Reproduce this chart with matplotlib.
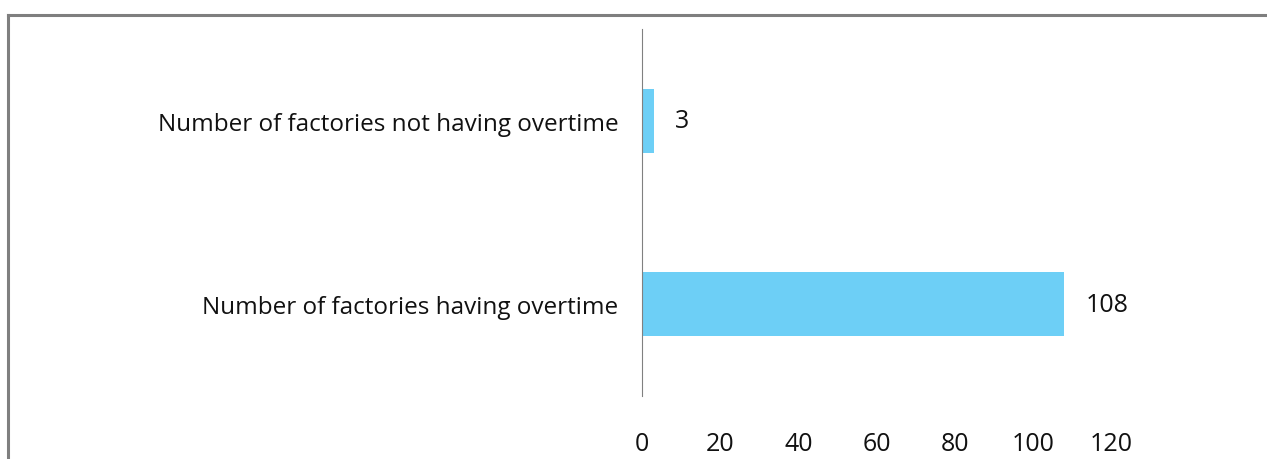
import matplotlib.pyplot as plt
from matplotlib.lines import Line2D

# data
categories = ["Number of factories having overtime",
              "Number of factories not having overtime"]
counts = [108, 3]
xticks = [0, 20, 40, 60, 80, 100, 120]

plt.rcParams['font.family'] = ['Open Sans', 'DejaVu Sans']

fig = plt.figure(figsize=(12.67, 4.6), dpi=100)
ax = fig.add_axes([642 / 1267, 1 - 397 / 460, (1111 - 642) / 1267, 367 / 460])

ypos = list(range(len(categories)))
ax.barh(ypos, counts, height=0.35, color='#6dcff6')
for y, v in zip(ypos, counts):
    ax.text(v + 5.5, y, str(v), va='center', ha='left', fontsize=18, color='#111111')

ax.set_xlim(0, 120)
ax.set_ylim(-0.5, 1.5)
ax.set_yticks(ypos)
ax.set_yticklabels(categories, fontsize=17.5, color='#111111')
ax.set_xticks(xticks)
ax.set_xticklabels([str(t) for t in xticks], fontsize=18, color='#111111')
ax.tick_params(axis='y', length=0, pad=17)
ax.tick_params(axis='x', length=0, pad=25)

for s in ['top', 'right', 'bottom']:
    ax.spines[s].set_visible(False)
ax.spines['left'].set_color('#808080')
ax.spines['left'].set_linewidth(0.8)

# outer frame (top and left edges visible)
fig.add_artist(Line2D([8 / 1267, 1.0], [1 - 16 / 460, 1 - 16 / 460],
                      transform=fig.transFigure, color='#7f7f7f', lw=2.2))
fig.add_artist(Line2D([8 / 1267, 8 / 1267], [0, 1 - 16 / 460],
                      transform=fig.transFigure, color='#7f7f7f', lw=2.2))

fig.savefig('out.png', dpi=100)
